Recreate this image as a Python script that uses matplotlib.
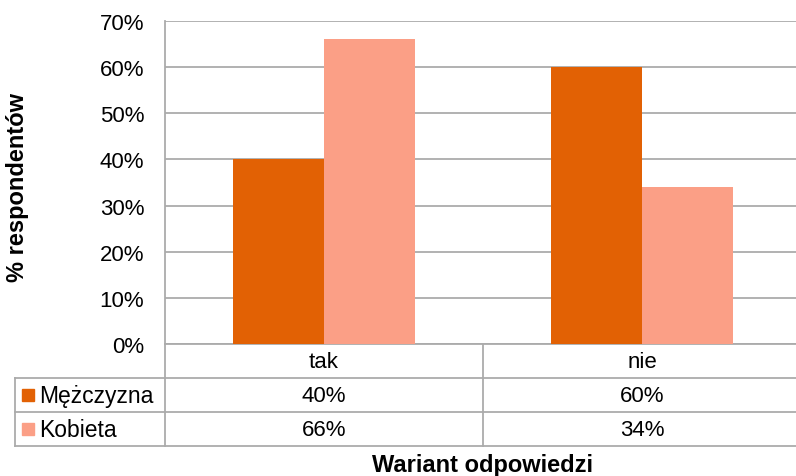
#!/usr/bin/env python3
"""
Bar chart with Excel-style data table: Wariant odpowiedzi
"""

import matplotlib.pyplot as plt
import numpy as np

plt.rcParams['font.family'] = ['Liberation Sans', 'DejaVu Sans']

categories = ['tak', 'nie']
series_names = ['Mężczyzna', 'Kobieta']
men = [40, 60]
women = [66, 34]
colors = ['#E26104', '#FB9F86']
grid_color = '#ababab'

W, H = 796, 477
fig = plt.figure(figsize=(W / 100, H / 100), dpi=100)

# pixel helpers
def fx(px):
    return px / W

def fy(py):
    return 1 - py / H

left, right = 165, 801
top, bottom = 22, 345
ax = fig.add_axes([fx(left), fy(bottom), fx(right - left), (bottom - top) / H])

x = np.arange(len(categories))
bw = 0.286
ax.bar(x - bw / 2, men, bw, color=colors[0], zorder=3)
ax.bar(x + bw / 2, women, bw, color=colors[1], zorder=3)

ax.set_xlim(-0.5, 1.5)
ax.set_ylim(0, 70)
ax.set_yticks(range(0, 71, 10))
ax.set_yticklabels([f'{v}%' for v in range(0, 71, 10)], fontsize=16)
ax.tick_params(axis='y', length=0, pad=15)
ax.set_xticks([])
ax.grid(axis='y', color=grid_color, linewidth=1.3, zorder=0)
for s in ['top', 'right']:
    ax.spines[s].set_visible(False)
ax.spines['left'].set_color(grid_color)
ax.spines['bottom'].set_color(grid_color)
ax.spines['left'].set_linewidth(1.3)
ax.spines['bottom'].set_linewidth(1.3)

fig.text(fx(18), fy(187), '% respondentów', rotation=90, ha='center', va='center',
         fontsize=17, fontweight='bold')

# data table below the plot
tab_bottom = 447
tab = fig.add_axes([fx(left), fy(tab_bottom), fx(right - left), (tab_bottom - bottom) / H])
tab.set_xlim(-0.5, 1.5)
tab.set_ylim(3, 0)
tab.axis('off')

px2d = 2 / (right - left)
x_left = -0.5 - (left - 15) * px2d
lk = dict(color=grid_color, linewidth=1.3, clip_on=False)
tab.plot([-0.5, -0.5], [0, 3], **lk)
tab.plot([0.5, 0.5], [0, 3], **lk)
tab.plot([x_left, x_left], [1, 3], **lk)
for r in [1, 2, 3]:
    tab.plot([x_left, 1.5], [r, r], **lk)

for i, c in enumerate(categories):
    tab.text(i, 0.52, c, ha='center', va='center', fontsize=16)
for r, (name, vals) in enumerate(zip(series_names, [men, women]), start=1):
    for i, v in enumerate(vals):
        tab.text(i, r + 0.52, f'{v}%', ha='center', va='center', fontsize=16)
    tab.add_patch(plt.Rectangle((x_left + 7 * px2d, r + 0.33), 12 * px2d, 0.36,
                                color=colors[r - 1], clip_on=False))
    tab.text(x_left + 24 * px2d, r + 0.52, name, ha='left', va='center', fontsize=16.5)

fig.text(fx(483), fy(466), 'Wariant odpowiedzi', ha='center', va='center',
         fontsize=17, fontweight='bold')

plt.savefig('out.png', dpi=100)
